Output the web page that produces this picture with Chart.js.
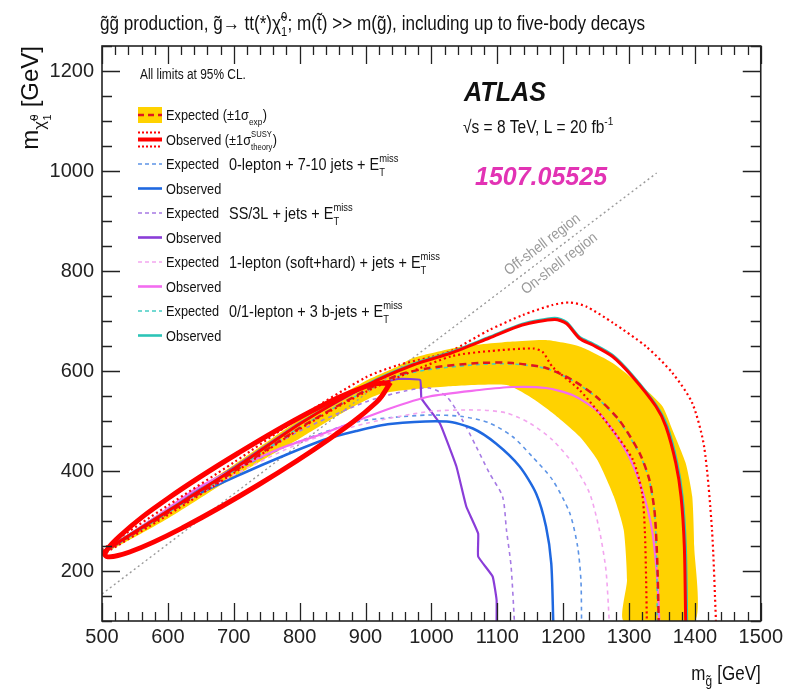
<!DOCTYPE html>
<html>
<head>
<meta charset="utf-8">
<script src="https://cdn.jsdelivr.net/npm/chart.js@4.4.1/dist/chart.umd.min.js"></script>
<style>
  html, body { margin: 0; background: #fff; }
  canvas { display: block; }
</style>
</head>
<body>
<canvas id="limits" width="787" height="697"></canvas>
<script>
// axis ticks
const xTicks = [500, 600, 700, 800, 900, 1000, 1100, 1200, 1300, 1400, 1500];
const yTicks = [200, 400, 600, 800, 1000, 1200];

// contours, [m(gluino), m(neutralino)] in GeV
const bandOuter = [[500,238],[600,326],[700,412],[800,503],[900,580],[950,610],[972,626],[1047,649],[1123,659],[1174,662],[1225,649],[1275,616],[1326,562],[1351,529],[1366,482],[1386,416],[1396,349],[1399,249],[1400,100]];
const bandInner = [[1292,100],[1297,182],[1292,282],[1277,349],[1252,422],[1225,469],[1184,516],[1149,549],[1114,572],[1023,569],[922,554],[850,505],[800,465],[700,388],[600,305],[500,232]];
const combObs = [[500,237],[600,320],[700,404],[800,494],[900,570],[972,612],[1030,636],[1088,666],[1138,692],[1187,703],[1205,695],[1225,665],[1245,652],[1275,629],[1305,589],[1341,529],[1356,489],[1371,416],[1379,349],[1384,249],[1386,100]];
const combObsUp = [[500,243],[600,331],[700,417],[800,507],[900,587],[950,612],[1000,628],[1030,640],[1088,682],[1139,712],[1184,732],[1210,737],[1235,729],[1276,696],[1326,649],[1366,596],[1396,536],[1414,449],[1426,282],[1432,100]];
const combObsDown = [[500,232],[600,312],[700,396],[800,484],[900,558],[972,600],[1032,630],[1090,640],[1154,645],[1169,638],[1184,608],[1225,562],[1275,482],[1306,422],[1320,355],[1324,282],[1326,182],[1327,100]];
const combExp = [[500,236],[600,316],[700,399],[800,486],[900,561],[950,592],[997,606],[1073,616],[1123,616],[1174,606],[1214,582],[1250,549],[1285,502],[1316,436],[1331,382],[1339,316],[1343,216],[1345,100]];
const zeroLepObs = [[500,235],[600,318],[640,350],[710,393],[775,430],[836,462],[886,480],[937,494],[1023,499],[1063,485],[1098,455],[1134,409],[1159,355],[1174,289],[1182,215],[1185,100]];
const zeroLepExp = [[500,235],[600,322],[640,354],[684,390],[785,452],[886,498],[940,507],[997,512],[1047,509],[1088,496],[1123,469],[1153,429],[1184,382],[1210,316],[1222,249],[1227,182],[1228,100]];
const ssObs = [[500,237],[600,323],[700,407],[800,496],[900,568],[950,584],[983,582],[985,545],[1013,495],[1038,409],[1053,329],[1071,275],[1071,229],[1093,189],[1099,142],[1099,100]];
const ssExp = [[500,236],[600,322],[700,404],[800,480],[900,538],[960,560],[997,566],[1023,549],[1047,502],[1068,449],[1088,396],[1108,349],[1114,282],[1121,209],[1126,100]];
const oneLepObs = [[500,236],[583,309],[649,369],[765,442],[836,475],[937,525],[997,549],[1073,562],[1123,568],[1174,566],[1214,552],[1250,522],[1275,482],[1300,429],[1320,362],[1335,282],[1343,182],[1346,100]];
const oneLepExp = [[500,235],[600,318],[700,392],[800,455],[900,495],[997,519],[1073,522],[1114,516],[1149,496],[1184,462],[1214,416],[1240,356],[1255,282],[1265,202],[1270,100]];
const bjetObs = [[500,238],[600,321],[700,405],[800,495],[900,572],[972,614],[1030,638],[1088,668],[1138,694],[1187,706],[1205,698],[1225,668],[1245,655],[1275,632],[1305,592],[1341,532],[1358,490],[1373,416],[1381,349],[1386,249],[1388,100]];
const bjetExp = [[500,236],[600,317],[700,400],[800,487],[900,560],[950,590],[997,603],[1073,613],[1123,614],[1174,605],[1214,581],[1250,548],[1285,500],[1316,434],[1331,380],[1339,314],[1342,216],[1343,100]];
const shellLine = [[500,154],[1342,996]];
// hand-drawn red ellipse on the diagonal
const markEllipse = [[938,577],[917,538],[843,462],[737,372],[626,289],[542,238],[505,231],[527,270],[601,346],[707,436],[817,519],[902,570],[938,577]];

const legendY = [115, 139.5, 164, 188.5, 213, 237.5, 262, 286.5, 311, 335.5];

const FONT = "'Liberation Sans', Arial, Helvetica, sans-serif";
const SX = 0.85;

const C = {
  band: '#ffd200', red: '#ff0000', redExp: '#e0151f',
  blue: '#1f68e0', blueExp: '#5d94e6',
  purple: '#8a3dd8', purpleExp: '#a67ae4',
  pink: '#f36cf0', pinkExp: '#f3a6ef',
  teal: '#2cc4b7', tealExp: '#45cdc4',
};

const pts = (a) => a.map(([x, y]) => ({ x, y }));

function line(data, color, width, dash, order, extra) {
  return Object.assign({
    data: pts(data), showLine: true, borderColor: color, backgroundColor: color,
    borderWidth: width, borderDash: dash || [], pointRadius: 0, tension: 0.25,
    fill: false, order, borderJoinStyle: 'round',
  }, extra || {});
}

const datasets = [
  line(markEllipse, C.red, 5, null, 0, { tension: 0.4 }),
  line(combObs, C.red, 3, null, 1),
  line(bjetObs, C.teal, 2.5, null, 2),
  line(combObsUp, C.red, 2.2, [2, 3], 3),
  line(combObsDown, C.red, 2.2, [2, 3], 3),
  line(combExp, C.redExp, 2.5, [7, 5], 4),
  line(bjetExp, C.tealExp, 1.6, [4, 4], 5),
  line(oneLepObs, C.pink, 2.2, null, 6),
  line(oneLepExp, C.pinkExp, 1.6, [4, 4], 7),
  line(zeroLepObs, C.blue, 2.5, null, 8),
  line(zeroLepExp, C.blueExp, 1.6, [4, 4], 9),
  line(ssObs, C.purple, 2.2, null, 10, { tension: 0.1 }),
  line(ssExp, C.purpleExp, 1.6, [4, 4], 11),
  line(shellLine, '#9a9a9a', 1.4, [2, 3], 12, { tension: 0 }),
  line(bandOuter.concat(bandInner), C.band, 0, null, 20, { fill: 'shape', backgroundColor: C.band, tension: 0.2 }),
];

// text with sub/superscripts: parts are strings or {t, s, dy, stack}
function drawRich(ctx, x, y, parts, o) {
  o = o || {};
  const size = o.size || 14, sx = o.sx || SX, st = o.style ? o.style + ' ' : '';
  const segs = [];
  let w = 0;
  for (const p of parts) {
    const q = typeof p === 'string' ? { t: p } : p;
    const fs = size * (q.s || 1);
    const font = `${st}${fs}px ${FONT}`;
    ctx.font = font;
    segs.push({ t: q.t, x: w, y: size * (q.dy || 0), font });
    if (!q.stack) w += ctx.measureText(q.t).width + (q.s ? 0.5 : 0);
  }
  ctx.save();
  ctx.translate(x, y);
  if (o.rot) ctx.rotate(o.rot);
  ctx.scale(sx, 1);
  const off = o.align === 'right' ? -w : o.align === 'center' ? -w / 2 : 0;
  ctx.fillStyle = o.color || '#111';
  ctx.textAlign = 'left';
  ctx.textBaseline = 'alphabetic';
  for (const s of segs) { ctx.font = s.font; ctx.fillText(s.t, s.x + off, s.y); }
  ctx.restore();
  return w * sx;
}

const SUB = (t) => ({ t, s: 0.65, dy: 0.3 });
const SUPS = (t) => ({ t, s: 0.65, dy: -0.45, stack: true });
const SUP = (t) => ({ t, s: 0.65, dy: -0.45 });
const ETMISS = ['E', { t: 'T', s: 0.65, dy: 0.35, stack: true }, SUP('miss')];

const legendRows = [
  { kind: 'band', text: ['Expected (±1σ', SUB('exp'), ')'] },
  { kind: 'theory', text: ['Observed (±1σ', { t: 'SUSY', s: 0.6, dy: -0.5, stack: true }, { t: 'theory', s: 0.6, dy: 0.35 }, ')'] },
  { color: C.blueExp, dash: true, text: ['Expected'], group: ['0-lepton + 7-10 jets + ', ...ETMISS] },
  { color: C.blue, text: ['Observed'] },
  { color: C.purpleExp, dash: true, text: ['Expected'], group: ['SS/3L + jets + ', ...ETMISS] },
  { color: C.purple, text: ['Observed'] },
  { color: C.pinkExp, dash: true, text: ['Expected'], group: ['1-lepton (soft+hard) + jets + ', ...ETMISS] },
  { color: C.pink, text: ['Observed'] },
  { color: C.tealExp, dash: true, text: ['Expected'], group: ['0/1-lepton + 3 b-jets + ', ...ETMISS] },
  { color: C.teal, text: ['Observed'] },
];

const atlasDecor = {
  id: 'atlasDecor',
  afterDatasetsDraw(chart) {
    const { ctx, chartArea: a, scales: { x, y } } = chart;
    ctx.save();
    ctx.strokeStyle = '#222';
    ctx.lineWidth = 1.6;
    ctx.strokeRect(a.left, a.top, a.right - a.left, a.bottom - a.top);
    ctx.beginPath();
    for (let v = xTicks[0]; v <= xTicks[xTicks.length - 1]; v += 20) {
      const px = Math.round(x.getPixelForValue(v)) + 0.5;
      const len = xTicks.includes(v) ? 18 : 9;
      ctx.moveTo(px, a.bottom); ctx.lineTo(px, a.bottom - len);
      ctx.moveTo(px, a.top); ctx.lineTo(px, a.top + len);
    }
    for (let v = 100; v <= 1250; v += 50) {
      const py = Math.round(y.getPixelForValue(v)) + 0.5;
      const len = yTicks.includes(v) ? 18 : 10;
      ctx.moveTo(a.left, py); ctx.lineTo(a.left + len, py);
      ctx.moveTo(a.right, py); ctx.lineTo(a.right - len, py);
    }
    ctx.lineWidth = 1.3;
    ctx.stroke();
    ctx.restore();
  },
  afterDraw(chart) {
    const { ctx, chartArea: a } = chart;
    // title
    drawRich(ctx, 100, 30, ['g̃g̃ production, g̃→ tt(*)χ̃', SUPS('0'), SUB('1'), '; m(t̃) >> m(g̃), including up to five-body decays'], { size: 20, sx: 0.855 });
    // axis titles
    drawRich(ctx, a.right, 680, ['m', { t: 'g̃', s: 0.7, dy: 0.3 }, ' [GeV]'], { size: 20, align: 'right' });
    drawRich(ctx, 38, 46, ['m', { t: 'χ̃', s: 0.7, dy: 0.3 }, { t: '0', s: 0.45, dy: 0.02, stack: true }, { t: '1', s: 0.45, dy: 0.55 }, ' [GeV]'], { size: 24, sx: 1, align: 'right', rot: -Math.PI / 2 });

    drawRich(ctx, 140, 79, ['All limits at 95% CL.'], { size: 14 });
    drawRich(ctx, 464, 101, ['ATLAS'], { size: 28, style: 'bold italic', sx: 0.9 });
    drawRich(ctx, 463, 133, ['√s = 8 TeV, L = 20 fb', SUP('-1')], { size: 18, sx: 0.86 });
    drawRich(ctx, 475, 185, ['1507.05525'], { size: 25, style: 'bold italic', sx: 1.0, color: '#e233b4' });

    // shell labels along the diagonal
    const ang = -37.5 * Math.PI / 180;
    drawRich(ctx, 545, 248, ['Off-shell region'], { size: 15, align: 'center', rot: ang, color: '#9a9a9a', sx: 0.9 });
    drawRich(ctx, 562, 267, ['On-shell region'], { size: 15, align: 'center', rot: ang, color: '#9a9a9a', sx: 0.9 });

    // legend
    legendRows.forEach((r, i) => {
      const ly = legendY[i];
      ctx.save();
      if (r.kind === 'band') {
        ctx.fillStyle = C.band;
        ctx.fillRect(138, ly - 8, 24, 16);
        ctx.strokeStyle = C.redExp; ctx.lineWidth = 2.5; ctx.setLineDash([6, 4]);
        ctx.beginPath(); ctx.moveTo(138, ly); ctx.lineTo(162, ly); ctx.stroke();
      } else if (r.kind === 'theory') {
        ctx.strokeStyle = C.red; ctx.lineWidth = 4;
        ctx.beginPath(); ctx.moveTo(138, ly); ctx.lineTo(162, ly); ctx.stroke();
        ctx.lineWidth = 1.8; ctx.setLineDash([2, 2]);
        ctx.beginPath();
        ctx.moveTo(138, ly - 7); ctx.lineTo(162, ly - 7);
        ctx.moveTo(138, ly + 7); ctx.lineTo(162, ly + 7);
        ctx.stroke();
      } else {
        ctx.strokeStyle = r.color;
        ctx.lineWidth = r.dash ? 1.6 : 2.6;
        ctx.setLineDash(r.dash ? [4, 3] : []);
        ctx.beginPath(); ctx.moveTo(138, ly); ctx.lineTo(162, ly); ctx.stroke();
      }
      ctx.restore();
      drawRich(ctx, 166, ly + 5, r.text, { size: 15 });
      if (r.group) drawRich(ctx, 229, ly + 6, r.group, { size: 17 });
    });
  },
};

new Chart(document.getElementById('limits'), {
  type: 'scatter',
  data: { datasets },
  options: {
    responsive: false,
    animation: false,
    events: [],
    layout: { padding: { top: 46, right: 25, left: 0, bottom: 0 } },
    plugins: { legend: { display: false }, tooltip: { enabled: false } },
    scales: {
      x: {
        type: 'linear', min: 500, max: 1500,
        afterBuildTicks: (s) => { s.ticks = xTicks.map((v) => ({ value: v })); },
        afterFit: (s) => { s.height = 76; },
        grid: { display: false, drawTicks: false },
        border: { display: false },
        ticks: { color: '#222', padding: 4, maxRotation: 0, autoSkip: false, font: { family: FONT, size: 20 }, callback: (v) => String(v) },
      },
      y: {
        type: 'linear', min: 100, max: 1250,
        afterBuildTicks: (s) => { s.ticks = yTicks.map((v) => ({ value: v })); },
        afterFit: (s) => { s.width = 102; },
        grid: { display: false, drawTicks: false },
        border: { display: false },
        ticks: { color: '#222', padding: 8, autoSkip: false, font: { family: FONT, size: 20 }, callback: (v) => String(v) },
      },
    },
  },
  plugins: [atlasDecor],
});
</script>
</body>
</html>
